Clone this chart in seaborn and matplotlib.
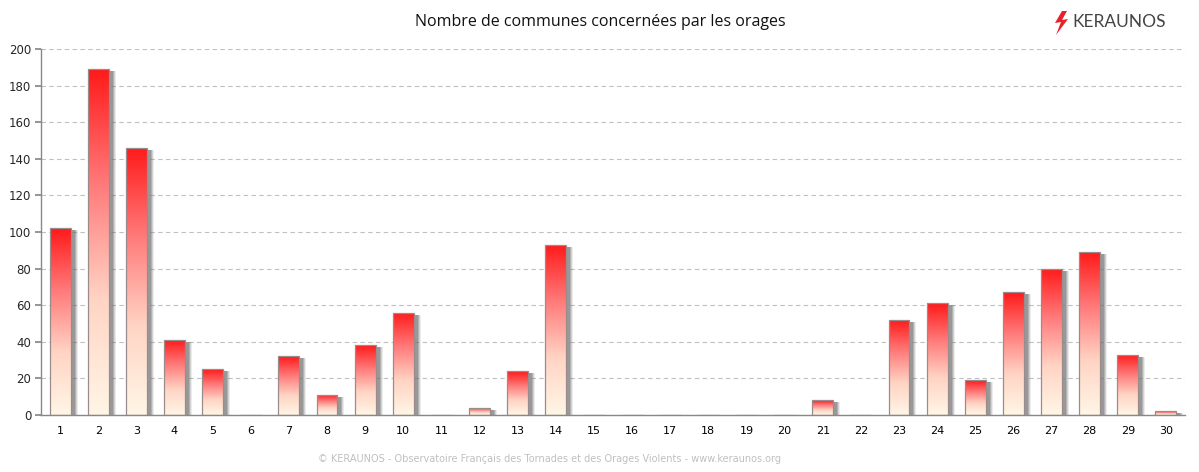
import numpy as np
import pandas as pd
import matplotlib
matplotlib.use("Agg")
import matplotlib.pyplot as plt
import matplotlib.transforms as mtransforms
from matplotlib.patches import Rectangle, Polygon
from matplotlib.colors import LinearSegmentedColormap
import seaborn as sns

days = [str(d) for d in range(1, 31)]
communes = [102, 189, 146, 41, 25, 0, 32, 11, 38, 56, 0, 4, 24, 93, 0, 0, 0, 0, 0, 0,
            8, 0, 52, 61, 19, 67, 80, 89, 33, 2]
yticks = list(range(0, 201, 20))
title = "Nombre de communes concernées par les orages"
footer = "© KERAUNOS - Observatoire Français des Tornades et des Orages Violents - www.keraunos.org"

sns.set_theme(style="white")
plt.rcParams['font.family'] = ['DejaVu Sans']

fig = plt.figure(figsize=(11.99, 4.72), dpi=100)
ax = fig.add_axes([41/1199, 57/472, (1185-41)/1199, (415-49)/472])

df = pd.DataFrame({"jour": days, "n": communes})
sns.barplot(data=df, x="jour", y="n", color="white", width=0.55, ax=ax, zorder=3)

cmap = LinearSegmentedColormap.from_list("g", ["#fff6e6", "#ffd4c4", "#ff7a7a", "#ff1a1a"])
grad = np.linspace(0, 1, 256).reshape(-1, 1)

for bar in list(ax.patches):
    x, w, h = bar.get_x(), bar.get_width(), bar.get_height()
    bar.set_facecolor("none")
    bar.set_edgecolor("#9a8c8c")
    bar.set_linewidth(0.9)
    bar.set_zorder(3)
    # soft shadow layers
    for dx, a in [(7, 0.12), (6, 0.2), (5, 0.3), (4, 0.35)]:
        tr = mtransforms.offset_copy(ax.transData, fig=fig, x=dx, y=-2, units='dots')
        ax.add_patch(Rectangle((x, 0), w, h, transform=tr, facecolor="#6a6a6a",
                               edgecolor="none", alpha=a, zorder=1.8))
    if h > 0:
        im = ax.imshow(grad, cmap=cmap, origin="lower", aspect="auto",
                       extent=[x, x + w, 0, h], zorder=2.5, interpolation="bilinear")
        clip = Rectangle((x, 0), w, h, transform=ax.transData)
        im.set_clip_path(clip)

ax.set_xlim(-0.5, 29.5)
ax.set_ylim(0, 200)
ax.set_yticks(yticks)
ax.set_xlabel("")
ax.set_ylabel("")
ax.set_axisbelow(True)
ax.yaxis.grid(True, linestyle=(0, (4, 3)), color="#c0c0c0", linewidth=0.8)
ax.xaxis.grid(False)

for s in ["top", "right"]:
    ax.spines[s].set_visible(False)
for s in ["left", "bottom"]:
    ax.spines[s].set_color("#888888")
    ax.spines[s].set_linewidth(1.0)
    ax.spines[s].set_zorder(4)

ax.tick_params(axis="x", which="major", length=0, labelsize=8, pad=8, colors="black")
ax.set_xticks(np.arange(-0.5, 30, 1), minor=True)
ax.tick_params(axis="x", which="minor", length=5, color="#888888", width=1, direction="out")
ax.tick_params(axis="y", length=4, color="#888888", labelsize=8.5, direction="out", left=True, pad=3)

fig.text(600/1199, 1 - 22/472, title, ha="center", va="center", fontsize=11.5,
         family="Open Sans", color="#111111")
fig.text(550/1199, 1 - 459/472, footer, ha="center", va="center", fontsize=7,
         color="#c0c0c0")

# logo
fig.text(1072/1199, 1 - 22/472, "KERAUNOS", ha="left", va="center", fontsize=12.5,
         color="#444444", family="Lato")
bolt = np.array([[1062, 11], [1055, 23], [1061, 22], [1056, 35], [1068, 19], [1062, 20], [1067, 11]])
fig.patches.append(Polygon(np.column_stack([bolt[:, 0] / 1199, 1 - bolt[:, 1] / 472]),
                           closed=True, transform=fig.transFigure, facecolor="#e8202a",
                           edgecolor="none"))

fig.savefig("out.png", dpi=100)
